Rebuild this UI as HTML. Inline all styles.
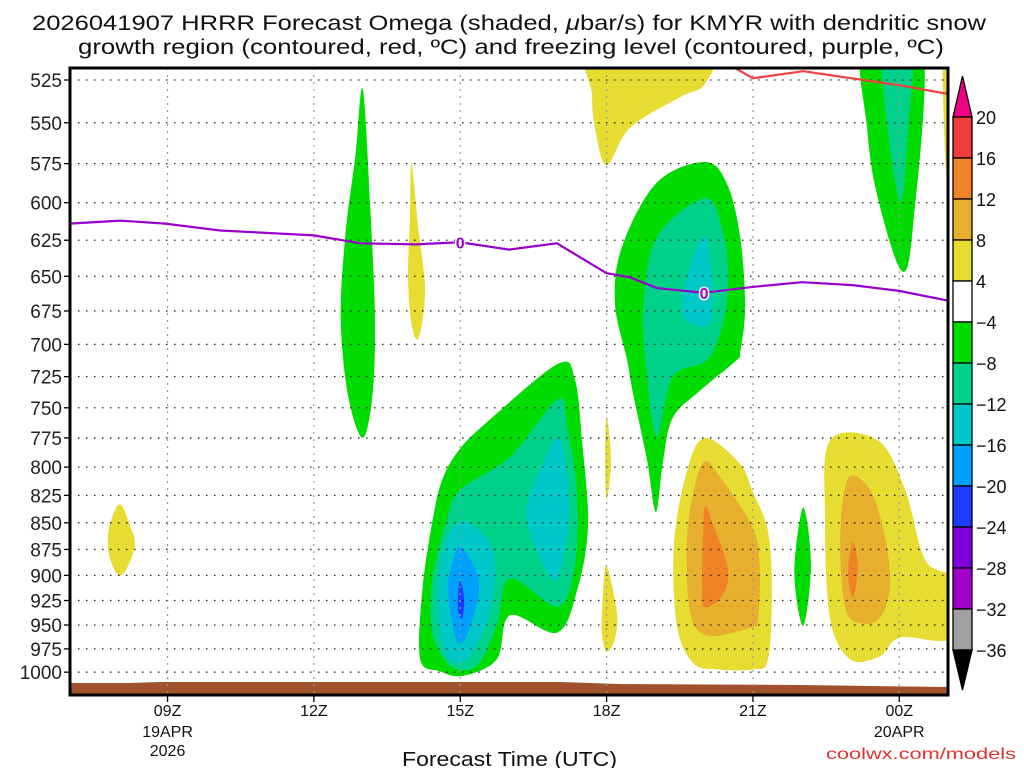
<!DOCTYPE html>
<html><head><meta charset="utf-8"><style>
body{margin:0;background:#fff;}
svg text{font-family:"Liberation Sans","DejaVu Sans",sans-serif;}
</style></head><body>
<svg id="chart" width="1024" height="768" viewBox="0 0 1024 768" xmlns="http://www.w3.org/2000/svg">
<rect width="1024" height="768" fill="#fff"/>
<text x="32" y="30" font-size="21" textLength="954" lengthAdjust="spacingAndGlyphs" fill="#111">2026041907 HRRR Forecast Omega (shaded, <tspan font-style="italic">μ</tspan>bar/s) for KMYR with dendritic snow</text>
<text x="78" y="54" font-size="21" textLength="866" lengthAdjust="spacingAndGlyphs" fill="#111">growth region (contoured, red, ºC) and freezing level (contoured, purple, ºC)</text>
<g id="plot"></g>
<g id="cbar"></g>
<text x="402" y="766" font-size="20" textLength="215" lengthAdjust="spacingAndGlyphs" fill="#111">Forecast Time (UTC)</text>
<text x="826" y="759" font-size="16" textLength="190" lengthAdjust="spacingAndGlyphs" fill="#e03030">coolwx.com/models</text>
</svg>
<script>
// ---- data ----
const pressureTicks = [525,550,575,600,625,650,675,700,725,750,775,800,825,850,875,900,925,950,975,1000];
const hourTicks = [9,12,15,18,21,24];
const hourLabels = ["09Z","12Z","15Z","18Z","21Z","00Z"];
const cbarLevels = [20,16,12,8,4,-4,-8,-12,-16,-20,-24,-28,-32,-36];
const cbarColors = ["#f03c3c","#f08228","#e6af2d","#e6dc32","#ffffff","#00dc00","#00d28c","#00c8c8","#00a0ff","#1e3cff","#8200dc","#a000c8","#a0a0a0"];
const freezeHours = [7,8.03,8.95,10.08,12.0,12.95,14.08,15.0,16.0,16.98,18.0,18.48,19.03,20.0,20.99,22.01,23.04,24.0,25.0];
const freezePres = [613.8,611.8,613.8,618.4,621.7,627.1,627.8,626.4,631.4,627.1,647.8,650.7,658.4,661.8,657.6,654.2,656.3,660.4,667.5];
const dgzHours = [20.3,21.0,22.03,24.0,25.0];
const dgzPres = [513,524,520,528,533];
// shaded omega regions: level bin, points [hour, pressure]
const regions = [
 {v:-4, pts:[[13.0,530],[13.15,600],[13.25,680],[13.2,740],[13.0,775],[12.7,740],[12.55,680],[12.65,620],[12.85,570]]},
 {v:4, pts:[[14.0,575],[14.15,620],[14.28,660],[14.15,695],[14.0,685],[13.93,650],[13.97,610]]},
 {v:4, pts:[[8.02,833],[8.25,855],[8.33,870],[8.2,890],[8.0,900],[7.8,880],[7.8,855]]},
 {v:-4, pts:[[17.0,715],[15.57,761],[15.0,784],[14.65,809],[14.44,846],[14.22,916],[14.18,986],[14.58,999],[15.06,1004],[15.75,986],[16.02,940],[16.98,958],[17.39,916],[17.62,853],[17.5,779],[17.35,727]]},
 {v:-8, pts:[[17.0,743],[16.02,791],[15.0,820],[14.73,846],[14.44,900],[14.42,956],[14.79,993],[15.34,993],[15.75,950],[16.02,903],[17.0,931],[17.35,890],[17.39,822],[17.19,765]]},
 {v:-12, pts:[[15.0,849],[15.55,865],[15.72,897],[15.57,943],[15.14,986],[14.73,983],[14.54,933],[14.65,877]]},
 {v:-12, pts:[[17.0,775],[17.19,809],[17.21,853],[16.98,905],[16.57,877],[16.35,840],[16.57,809]]},
 {v:-16, pts:[[15.0,873],[15.34,897],[15.36,923],[15.14,960],[14.93,967],[14.75,916],[14.83,890]]},
 {v:-20, pts:[[15.0,905],[15.08,923],[15.04,943],[14.96,936],[14.96,916]]},
 {v:4, pts:[[20.02,775],[20.73,797],[21.0,822],[21.31,858],[21.39,916],[21.31,986],[21.0,997],[20.26,997],[19.77,990],[19.44,950],[19.38,870],[19.65,803]]},
 {v:8, pts:[[20.02,795],[20.28,806],[20.98,853],[21.14,890],[21.1,945],[20.94,953],[20.06,961],[19.71,936],[19.65,865],[19.81,816]]},
 {v:12, pts:[[20.02,835],[20.16,849],[20.49,894],[20.37,920],[20.02,932],[19.96,916],[19.98,858]]},
 {v:4, pts:[[18.0,757],[18.09,794],[18.0,829],[17.97,794]]},
 {v:4, pts:[[18.0,891],[18.21,936],[18.17,964],[18.0,978],[17.9,956],[17.93,916]]},
 {v:-4, pts:[[22.03,836],[22.19,890],[22.03,951],[21.85,897]]},
 {v:4, pts:[[22.58,777],[23.56,777],[24.12,820],[24.53,885],[25.1,905],[25.1,963],[24.02,963],[23.6,983],[22.99,986],[22.58,943],[22.48,846]]},
 {v:8, pts:[[22.95,810],[23.4,820],[23.71,864],[23.81,911],[23.6,943],[23.2,948],[22.89,932],[22.79,864]]},
 {v:12, pts:[[23.05,868],[23.15,893],[23.05,922],[22.95,897]]},
 {v:4, pts:[[17.7,505],[20.12,505],[20.02,527],[19.5,535],[18.48,553],[18.0,576],[17.76,553],[17.7,533]]},
 {v:-4, pts:[[20.02,574],[20.47,588],[20.74,623],[20.84,672],[20.74,706],[20.67,712],[19.92,736],[19.36,758],[19.16,794],[19.01,840],[18.83,794],[18.54,738],[18.42,712],[18.17,669],[18.32,629],[19.03,587]]},
 {v:-8, pts:[[20.02,597],[20.39,620],[20.49,651],[20.39,683],[20.06,712],[19.36,725],[19.03,774],[18.83,725],[18.75,672],[19.03,623]]},
 {v:-12, pts:[[20.02,623],[20.18,663],[20.06,686],[19.55,678],[19.71,644]]},
 {v:-4, pts:[[23.26,505],[24.47,505],[24.28,616],[24.04,646],[23.54,594],[23.34,553]]},
 {v:-8, pts:[[23.65,505],[24.26,505],[24.18,553],[24.04,599],[23.8,563]]},
 {v:4, pts:[[24.9,505],[25.1,505],[25.1,625],[24.94,570]]}
];
// ---- scales ----
const X0=70,X1=948,Y0=68,Y1=695;
const xs=h=>X0+(h-7)*48.78;
const ys=p=>80+919*Math.log(p/525);
const NS="http://www.w3.org/2000/svg";
function mk(tag,attrs,parent){const e=document.createElementNS(NS,tag);for(const k in attrs)e.setAttribute(k,attrs[k]);parent.appendChild(e);return e;}
function colorFor(v){
 if(v>=16)return cbarColors[0]; if(v>=12)return cbarColors[1]; if(v>=8)return cbarColors[2]; if(v>=4)return cbarColors[3];
 if(v<=-20)return cbarColors[9]; if(v<=-16)return cbarColors[8]; if(v<=-12)return cbarColors[7]; if(v<=-8)return cbarColors[6]; return cbarColors[5];
}
function smoothPath(pts){
 const n=pts.length;let d="";
 for(let i=0;i<n;i++){
  const p0=pts[(i-1+n)%n],p1=pts[i],p2=pts[(i+1)%n],p3=pts[(i+2)%n];
  if(i===0)d+="M"+p1[0].toFixed(1)+","+p1[1].toFixed(1);
  const c1=[p1[0]+(p2[0]-p0[0])/6,p1[1]+(p2[1]-p0[1])/6];
  const c2=[p2[0]-(p3[0]-p1[0])/6,p2[1]-(p3[1]-p1[1])/6];
  d+="C"+c1[0].toFixed(1)+","+c1[1].toFixed(1)+" "+c2[0].toFixed(1)+","+c2[1].toFixed(1)+" "+p2[0].toFixed(1)+","+p2[1].toFixed(1);
 }
 return d+"Z";
}
const plot=document.getElementById('plot');
const defs=mk('defs',{},plot);
const cp=mk('clipPath',{id:'clip'},defs);
mk('rect',{x:X0,y:Y0,width:X1-X0,height:Y1-Y0},cp);
const shade=mk('g',{'clip-path':'url(#clip)'},plot);


regions.forEach((r,i)=>{
 const pts=r.pts.map(q=>[xs(q[0]),ys(q[1])]);
 const e=mk('path',{d:smoothPath(pts),fill:colorFor(r.v)},shade);
 
 
});
// ground
const g=mk('polygon',{points:X0+",683 130,683 160,682 560,682 620,684 800,685 948,687 948,695 70,695",fill:"#a0522d"},plot);


// grid
const grid=mk('g',{},plot);


pressureTicks.forEach(p=>{
 const y=ys(p);
 const l=mk('line',{x1:X0,x2:X1,y1:y,y2:y,stroke:"#222","stroke-width":1.3,"stroke-dasharray":"1.5,6.5"},grid);
 
 
 const t=mk('line',{x1:X0-6,x2:X0,y1:y,y2:y,stroke:"#000","stroke-width":1.3},grid);
 
 
 const tx=mk('text',{x:X0-8,y:y+7,"font-size":19,"text-anchor":"end",fill:"#222"},grid);
 tx.textContent=p;
 
 
});
hourTicks.forEach((h,i)=>{
 const x=xs(h);
 const l=mk('line',{x1:x,x2:x,y1:Y0,y2:Y1,stroke:"#999","stroke-width":1.2,"stroke-dasharray":"2,5"},grid);
 
 
 const t=mk('line',{x1:x,x2:x,y1:Y1,y2:Y1+7,stroke:"#000","stroke-width":1.3},grid);
 
 
 const tx=mk('text',{x:x,y:Y1+21,"font-size":16,"text-anchor":"middle",fill:"#111"},grid);
 tx.textContent=hourLabels[i];
 
 
});
[["19APR",9,737],["2026",9,756],["20APR",24,737]].forEach(a=>{
 const tx=mk('text',{x:xs(a[1]),y:a[2],"font-size":16,"text-anchor":"middle",fill:"#111"},grid);
 tx.textContent=a[0];
 
 
});
// lines
const lines=mk('g',{'clip-path':'url(#clip)'},plot);


const fz=mk('polyline',{points:freezeHours.map((h,i)=>xs(h)+","+ys(freezePres[i])).join(" "),fill:"none",stroke:"#9900cc","stroke-width":2.2},lines);


const dg=mk('polyline',{points:dgzHours.map((h,i)=>xs(h)+","+ys(dgzPres[i])).join(" "),fill:"none",stroke:"#f04040","stroke-width":2.2},lines);


[7,13].forEach(i=>{
 const x=xs(freezeHours[i]),y=ys(freezePres[i]);
 const t=mk('text',{x:x,y:y+6,"font-size":16,"font-weight":"bold","text-anchor":"middle",fill:"#9900cc",stroke:"#fff","stroke-width":3,"paint-order":"stroke"},lines);
 t.textContent="0";
 
 
});
const fr=mk('rect',{x:X0,y:Y0,width:X1-X0,height:Y1-Y0,fill:"none",stroke:"#000","stroke-width":3},plot);


// colorbar
const cb=document.getElementById('cbar');
const CX=953,CW=19,boxTop=117,step=41.0;
const tri=mk('polygon',{points:`${CX},${boxTop} ${CX+CW},${boxTop} ${CX+CW/2},76`,fill:"#f00082",stroke:"#000","stroke-width":1.3},cb);


cbarColors.forEach((c,i)=>{
 const r=mk('rect',{x:CX,y:boxTop+i*step,width:CW,height:step,fill:c,stroke:"#000","stroke-width":1.3},cb);
 
 
});
const bot=boxTop+cbarColors.length*step;
const tri2=mk('polygon',{points:`${CX},${bot} ${CX+CW},${bot} ${CX+CW/2},${bot+40}`,fill:"#000",stroke:"#000","stroke-width":1.3},cb);


cbarLevels.forEach((v,i)=>{
 const t=mk('text',{x:976,y:boxTop+i*step+7,"font-size":18,fill:"#111"},cb);
 t.textContent=v<0?"\u2212"+(-v):String(v);
 
 
});
</script>
</body></html>
